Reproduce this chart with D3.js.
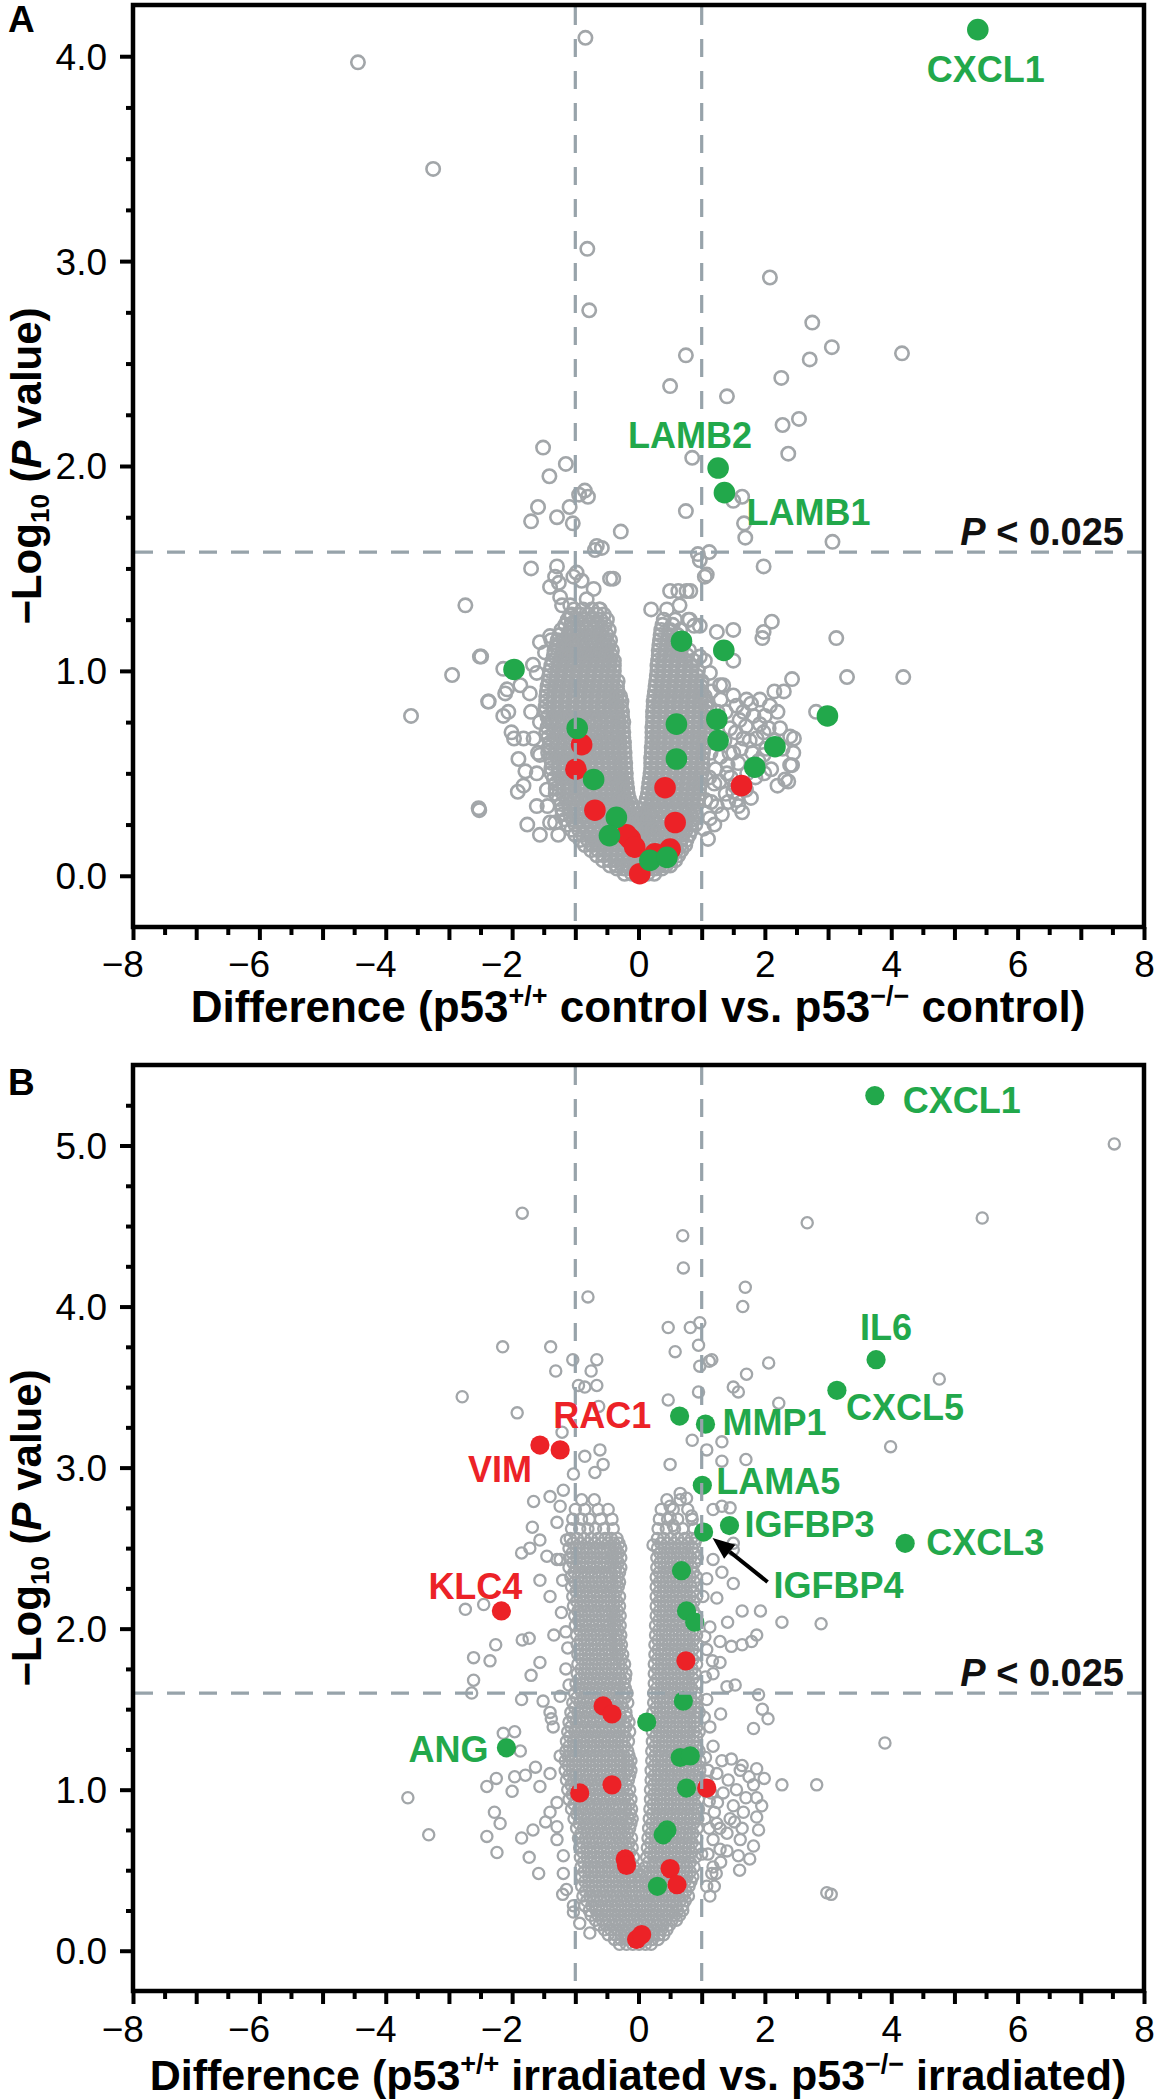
<!DOCTYPE html>
<html><head><meta charset="utf-8">
<script src="https://cdn.jsdelivr.net/npm/d3@7"></script>
<style>body{margin:0;background:#fff}</style>
</head><body>
<svg id="chart" width="1158" height="2100"></svg>
<script>
// ---------------- DATA ----------------
const xTicks = [-8,-7,-6,-5,-4,-3,-2,-1,0,1,2,3,4,5,6,7,8];
const yTicksA = [0,1,2,3,4];
const yTicksB = [0,1,2,3,4,5];
const foldLines = [-1, 1];
const threshA = 1.58, threshB = 1.6;
const xTitleA = ["Difference (p53", "+/+", " control vs. p53", "\u2212/\u2212", " control)"];
const xTitleB = ["Difference (p53", "+/+", " irradiated vs. p53", "\u2212/\u2212", " irradiated)"];

// Panel A: isolated / peripheral grey proteins [difference, -log10 P]
const greyA = [[-4.44,3.97],[-3.25,3.45],[-0.84,4.09],[-0.81,3.06],[-0.78,2.76],
[2.08,2.92],[2.75,2.70],[3.06,2.58],[2.71,2.52],[4.17,2.55],[2.26,2.43],[0.75,2.54],[0.50,2.39],[1.40,2.34],[2.54,2.23],[2.28,2.20],[2.37,2.06],[0.85,2.04],[0.75,1.78],[1.64,1.85],[1.50,1.83],[1.67,1.72],[1.69,1.65],[-0.28,1.68],[3.07,1.63],[1.12,1.58],[0.94,1.57],
[-1.51,2.09],[-1.15,2.01],[-1.41,1.95],[-1.59,1.80],[-1.70,1.73],[-1.29,1.75],[-1.09,1.80],[-1.04,1.72],[-0.94,1.86],[-0.85,1.88],[-0.80,1.85],[-0.66,1.61],[-0.58,1.60],[-0.69,1.59],[0.97,1.54],[1.08,1.47],[1.98,1.51],
[3.13,1.16],[2.43,0.96],[3.30,0.97],[4.19,0.97],[2.11,1.24],[1.96,1.16],[2.81,0.80],[2.46,0.67],[2.43,0.54],[2.37,0.46],[1.64,0.31],[-0.40,1.45],[0.82,1.39],[0.79,1.25],[1.05,1.46],
[-1.70,1.50],[-2.74,1.32],[-2.49,1.07],[-2.95,0.98],[-3.60,0.78],[-2.52,0.32],[-2.37,0.85],[-1.70,0.80],[-1.76,0.25],[-1.91,0.41],
[-1.29,1.51],[-1.32,1.46],[-0.98,1.48],[-0.90,1.44],[-0.71,1.40],[-0.45,1.45],[-1.40,1.41],[-1.24,1.36],[-1.08,1.32],[-0.82,1.35],[-0.61,1.30],[-1.08,1.27],
[0.50,1.39],[0.63,1.39],[0.76,1.39],[0.81,1.25],[0.97,1.22],[1.24,1.19],[1.50,1.20],[1.98,1.19],[1.13,0.99],[0.97,1.07],
[1.34,0.93],[1.50,0.88],[1.71,0.86],[1.92,0.86],[2.08,0.83],[1.82,0.78],[1.55,0.83],[1.66,0.67],[1.98,0.59],[2.40,0.54],[2.32,0.47],[1.50,0.60],[1.40,0.50],[1.50,0.41],[1.55,0.37],[1.24,0.34],[1.13,0.28],[1.03,0.23],[1.98,0.70],[2.24,0.72],[2.40,0.68],[2.45,0.60],
[1.50,1.05],[1.29,0.93],[1.70,0.73],[1.87,0.67],[2.11,0.63],[1.99,0.50],[1.41,0.54],[1.52,0.44],[1.38,0.40],[1.58,0.34],[1.06,0.37],
[1.15,0.90],[1.25,0.80],[1.20,0.65],[1.30,0.58],[1.45,0.72],[1.60,0.76],[2.00,0.78],[2.15,0.66],[1.58,0.55],[1.72,0.50],[1.85,0.48],[1.20,0.45],[1.15,0.36],[1.70,0.42],[2.10,0.52],
[1.12,0.82],[1.18,0.74],[1.14,0.60],[1.22,0.52],[1.12,0.48],[1.30,0.86],[1.38,0.80],[1.36,0.66],[1.44,0.60],[1.28,0.46],[1.46,0.48],[1.62,0.62],[1.54,0.70],[1.66,0.80],[1.78,0.84],[1.80,0.60],[1.92,0.74],[1.90,0.56],[2.06,0.72],[2.20,0.80],[2.28,0.62],[2.02,0.62],[1.76,0.66],[1.64,0.45],[1.78,0.38],[1.42,0.36],[1.32,0.30],[1.20,0.25],[1.10,0.18],[2.20,0.44],[2.30,0.90],[2.15,0.90],
[0.20,1.30],[0.45,1.30],[0.65,1.32],[0.88,1.22],[1.05,1.05],
[-2.51,1.07],[-2.38,0.85],[-2.14,1.01],[-2.06,0.80],[-2.01,0.70],[-1.90,0.57],[-2.53,0.33],[-1.87,0.93],[-1.61,0.99],[-1.48,1.09],[-1.56,1.14],[-1.40,1.17],[-1.72,0.89],
[-2.08,0.91],[-2.14,0.78],[-1.97,0.67],[-1.79,0.51],[-1.67,1.03],[-1.82,0.44],[-1.61,0.34],[-1.66,0.67],[-1.56,0.59],[-1.45,0.42],[-1.40,0.26],[-1.56,0.20],[-1.27,0.20],[-1.61,0.50],[-1.82,0.67],[-2.11,0.89],
[-1.26,1.43],[-1.03,1.46],[-1.21,1.32],[-1.06,1.23],[-1.38,1.15],[-1.56,0.75],[-1.59,0.60],[-1.44,0.34],[-1.32,0.26]];

// Panel A: dense core, listed row by row  [-log10 P, [differences]]
const denseA = [
[1.30,[-1.02,-0.88,-0.74,-0.62]],
[1.25,[-1.12,-0.98,-0.85,-0.72,-0.6,-0.5,0.4,0.58]],
[1.20,[-1.22,-1.08,-0.95,-0.82,-0.7,-0.58,-0.47,0.36,0.5,0.66]],
[1.15,[-1.28,-1.15,-1.02,-0.89,-0.76,-0.64,-0.53,-0.45,0.34,0.46,0.58,0.72]],
[1.10,[-1.33,-1.2,-1.08,-0.96,-0.84,-0.72,-0.61,-0.5,-0.42,0.32,0.43,0.55,0.67,0.8]],
[1.05,[-1.36,-1.24,-1.12,-1.0,-0.88,-0.76,-0.65,-0.54,-0.45,-0.39,0.31,0.41,0.52,0.63,0.75,0.87]],
[1.00,[-1.4,-1.28,-1.16,-1.04,-0.92,-0.8,-0.69,-0.58,-0.48,-0.39,0.3,0.4,0.51,0.62,0.73,0.84,0.94]],
[0.95,[-1.42,-1.3,-1.18,-1.06,-0.94,-0.82,-0.71,-0.6,-0.5,-0.41,-0.33,0.28,0.38,0.49,0.6,0.71,0.82,0.92,1.0]],
[0.90,[-1.45,-1.33,-1.21,-1.09,-0.97,-0.85,-0.74,-0.63,-0.52,-0.42,-0.33,0.26,0.36,0.47,0.58,0.69,0.8,0.9,1.0]],
[0.85,[-1.46,-1.34,-1.22,-1.1,-0.98,-0.86,-0.75,-0.64,-0.53,-0.43,-0.34,-0.27,0.24,0.34,0.45,0.56,0.67,0.78,0.89,0.99,1.08]],
[0.80,[-1.47,-1.35,-1.23,-1.11,-0.99,-0.87,-0.76,-0.65,-0.54,-0.44,-0.35,-0.26,0.23,0.33,0.44,0.55,0.66,0.77,0.88,0.98,1.07]],
[0.75,[-1.41,-1.29,-1.17,-1.05,-0.93,-0.81,-0.7,-0.59,-0.49,-0.4,-0.31,-0.24,0.23,0.32,0.43,0.54,0.65,0.76,0.87,0.97,1.06]],
[0.70,[-1.46,-1.34,-1.22,-1.1,-0.98,-0.86,-0.75,-0.64,-0.53,-0.43,-0.33,-0.24,0.22,0.31,0.42,0.53,0.64,0.75,0.86,0.96,1.05]],
[0.65,[-1.4,-1.28,-1.16,-1.04,-0.92,-0.8,-0.69,-0.58,-0.48,-0.39,-0.3,-0.23,0.22,0.31,0.41,0.52,0.63,0.74,0.85,0.95,1.04]],
[0.60,[-1.43,-1.31,-1.19,-1.07,-0.95,-0.83,-0.72,-0.61,-0.51,-0.41,-0.31,-0.22,0.21,0.3,0.4,0.51,0.62,0.73,0.84,0.94,1.02]],
[0.55,[-1.37,-1.25,-1.13,-1.01,-0.89,-0.77,-0.66,-0.56,-0.46,-0.37,-0.29,-0.21,0.2,0.29,0.39,0.5,0.61,0.72,0.83,0.93,1.01]],
[0.50,[-1.38,-1.26,-1.14,-1.02,-0.9,-0.78,-0.67,-0.56,-0.46,-0.37,-0.28,-0.2,0.19,0.28,0.38,0.49,0.6,0.71,0.82,0.92,1.0]],
[0.45,[-1.31,-1.19,-1.07,-0.95,-0.83,-0.72,-0.61,-0.51,-0.42,-0.33,-0.25,-0.19,0.17,0.26,0.36,0.47,0.58,0.69,0.8,0.9,0.98]],
[0.40,[-1.31,-1.19,-1.07,-0.95,-0.83,-0.72,-0.61,-0.51,-0.41,-0.32,-0.24,-0.17,0.15,0.24,0.34,0.45,0.56,0.67,0.78,0.88,0.96]],
[0.35,[-1.22,-1.1,-0.98,-0.86,-0.75,-0.64,-0.54,-0.44,-0.35,-0.26,-0.18,-0.11,0.11,0.2,0.3,0.41,0.52,0.63,0.74,0.84,0.93]],
[0.30,[-1.2,-1.08,-0.96,-0.84,-0.72,-0.61,-0.5,-0.4,-0.31,-0.22,-0.14,-0.06,0.02,0.1,0.19,0.29,0.4,0.51,0.62,0.73,0.83,0.91]],
[0.25,[-1.12,-1.0,-0.88,-0.76,-0.64,-0.53,-0.43,-0.33,-0.24,-0.15,-0.07,0.01,0.09,0.18,0.28,0.39,0.5,0.61,0.72,0.82,0.9]],
[0.20,[-1.0,-0.88,-0.76,-0.65,-0.54,-0.44,-0.34,-0.25,-0.16,-0.08,0.0,0.08,0.17,0.27,0.37,0.48,0.59,0.7,0.8]],
[0.15,[-0.85,-0.73,-0.62,-0.51,-0.41,-0.31,-0.22,-0.13,-0.05,0.04,0.13,0.23,0.33,0.44,0.55,0.66,0.74]],
[0.10,[-0.66,-0.55,-0.44,-0.34,-0.24,-0.15,-0.06,0.03,0.12,0.22,0.32,0.43,0.54,0.63]],
[0.05,[-0.45,-0.34,-0.24,-0.14,-0.05,0.04,0.13,0.23,0.33,0.43,0.5]],
[0.01,[-0.22,-0.1,0.02,0.14,0.25]]];
const denseA2 = [
[1.275,[-1.06,-0.92,-0.79,-0.66,-0.55]],
[1.225,[-1.16,-1.02,-0.89,-0.76,-0.64,-0.53,0.38,0.54]],
[1.175,[-1.25,-1.11,-0.98,-0.85,-0.73,-0.61,-0.5,0.35,0.48,0.62]],
[1.125,[-1.3,-1.17,-1.05,-0.93,-0.81,-0.69,-0.57,-0.47,0.33,0.45,0.57,0.7]],
[1.075,[-1.34,-1.22,-1.1,-0.98,-0.86,-0.74,-0.63,-0.52,-0.43,0.32,0.42,0.53,0.65,0.77]],
[1.025,[-1.38,-1.26,-1.14,-1.02,-0.9,-0.78,-0.67,-0.56,-0.46,-0.39,0.3,0.4,0.51,0.62,0.73,0.85]],
[0.975,[-1.41,-1.29,-1.17,-1.05,-0.93,-0.81,-0.7,-0.59,-0.49,-0.4,0.29,0.39,0.5,0.61,0.72,0.83,0.93]],
[0.925,[-1.44,-1.32,-1.2,-1.08,-0.96,-0.84,-0.73,-0.62,-0.52,-0.43,-0.34,0.27,0.37,0.48,0.59,0.7,0.81,0.91,0.99]],
[0.875,[-1.46,-1.34,-1.22,-1.1,-0.98,-0.86,-0.75,-0.64,-0.54,-0.44,-0.35,-0.29,0.25,0.35,0.46,0.57,0.68,0.79,0.89,0.98,1.05]],
[0.825,[-1.47,-1.35,-1.23,-1.11,-0.99,-0.87,-0.76,-0.65,-0.55,-0.45,-0.36,-0.28,0.24,0.34,0.45,0.56,0.67,0.78,0.89,0.98,1.07]],
[0.775,[-1.44,-1.32,-1.2,-1.08,-0.96,-0.84,-0.73,-0.62,-0.52,-0.42,-0.33,-0.26,0.23,0.33,0.44,0.55,0.66,0.77,0.88,0.97,1.06]],
[0.725,[-1.44,-1.32,-1.2,-1.08,-0.96,-0.84,-0.73,-0.62,-0.52,-0.42,-0.32,-0.25,0.22,0.32,0.43,0.54,0.65,0.76,0.87,0.96,1.05]],
[0.675,[-1.43,-1.31,-1.19,-1.07,-0.95,-0.83,-0.72,-0.61,-0.51,-0.41,-0.32,-0.24,0.22,0.31,0.42,0.53,0.64,0.75,0.86,0.95,1.04]],
[0.625,[-1.42,-1.3,-1.18,-1.06,-0.94,-0.82,-0.71,-0.6,-0.5,-0.4,-0.31,-0.23,0.21,0.3,0.41,0.52,0.63,0.74,0.85,0.94,1.03]],
[0.575,[-1.4,-1.28,-1.16,-1.04,-0.92,-0.8,-0.69,-0.58,-0.48,-0.39,-0.3,-0.22,0.2,0.3,0.4,0.51,0.62,0.73,0.84,0.93,1.01]],
[0.525,[-1.38,-1.26,-1.14,-1.02,-0.9,-0.78,-0.67,-0.57,-0.47,-0.38,-0.29,-0.21,0.2,0.29,0.39,0.5,0.61,0.72,0.83,0.92,1.0]],
[0.475,[-1.34,-1.22,-1.1,-0.98,-0.86,-0.75,-0.64,-0.54,-0.44,-0.35,-0.27,-0.2,0.18,0.27,0.37,0.48,0.59,0.7,0.81,0.9,0.98]],
[0.425,[-1.31,-1.19,-1.07,-0.95,-0.83,-0.72,-0.61,-0.51,-0.42,-0.33,-0.25,-0.18,0.16,0.25,0.35,0.46,0.57,0.68,0.79,0.88,0.96]],
[0.375,[-1.26,-1.14,-1.02,-0.9,-0.79,-0.68,-0.58,-0.48,-0.39,-0.3,-0.22,-0.15,0.13,0.22,0.32,0.43,0.54,0.65,0.76,0.86,0.94]],
[0.325,[-1.21,-1.09,-0.97,-0.85,-0.74,-0.63,-0.53,-0.43,-0.34,-0.25,-0.17,-0.09,0.0,0.07,0.15,0.25,0.36,0.47,0.58,0.69,0.79,0.88]],
[0.275,[-1.16,-1.04,-0.92,-0.8,-0.68,-0.57,-0.47,-0.37,-0.28,-0.19,-0.11,-0.03,0.05,0.14,0.24,0.34,0.45,0.56,0.67,0.77,0.86]],
[0.225,[-1.06,-0.94,-0.82,-0.71,-0.6,-0.49,-0.39,-0.29,-0.2,-0.12,-0.04,0.04,0.13,0.22,0.32,0.43,0.54,0.65,0.75,0.84]],
[0.175,[-0.92,-0.8,-0.69,-0.58,-0.47,-0.37,-0.28,-0.19,-0.1,-0.02,0.06,0.15,0.25,0.35,0.46,0.57,0.67,0.76]],
[0.125,[-0.75,-0.64,-0.53,-0.43,-0.33,-0.24,-0.15,-0.06,0.03,0.12,0.21,0.3,0.4,0.5,0.6,0.68]],
[0.075,[-0.56,-0.45,-0.35,-0.25,-0.16,-0.07,0.02,0.11,0.2,0.3,0.4,0.5,0.58]],
[0.035,[-0.34,-0.23,-0.13,-0.03,0.07,0.17,0.27,0.37]]];

// Panel A highlighted proteins
const greenA = [[5.37,4.13,"CXCL1"],[1.26,1.99,"LAMB2"],[1.36,1.87,"LAMB1"],[0.68,1.145],[1.35,1.10],[-1.97,1.007],[0.60,0.74],[1.24,0.764],[1.26,0.66],[2.16,0.63],[1.84,0.53],[0.60,0.57],[2.99,0.78],[-0.97,0.72],[-0.71,0.47],[-0.35,0.285],[-0.46,0.196],[0.18,0.075],[0.45,0.09]];
const redA = [[-0.90,0.64],[-0.99,0.52],[-0.69,0.32],[-0.13,0.18],[-0.19,0.20],[-0.06,0.14],[0.02,0.01],[0.50,0.13],[0.26,0.107],[0.42,0.43],[0.58,0.26],[1.63,0.44]];

// Panel B: isolated / peripheral grey proteins
const greyB = [[7.53,5.01],[5.44,4.55],[2.67,4.52],[0.70,4.44],[0.71,4.24],[1.69,4.12],[1.65,4.00],[4.76,3.55],[3.99,3.13],[2.06,3.65],[1.71,3.58],[2.22,3.40],[0.47,3.87],[0.58,3.72],[0.82,3.87],[0.97,3.90],[0.95,3.76],[1.12,3.66],[0.97,3.63],[1.16,3.67],[1.50,3.50],[1.58,3.47],[0.47,3.42],[0.95,3.47],[-0.80,4.06],[-0.66,3.67],[-0.75,3.60],[-0.66,3.51],[0.85,3.17],[1.08,3.11],[1.32,3.16],[1.32,3.04],[1.70,3.05],[0.50,3.02],
[-1.84,4.58],[-2.15,3.75],[-1.39,3.75],[-1.31,3.60],[-1.04,3.67],[-0.85,3.50],[-0.95,3.51],[-2.79,3.44],[-1.92,3.34],[-1.21,3.22],[-0.63,3.38],
[-0.85,3.07],[-0.61,3.11],[-0.56,3.02],[-0.69,2.97],[-1.03,2.96],[-1.19,2.86],[-1.40,2.82],[-1.66,2.79],[-1.68,2.63],[-1.85,2.47],[-1.72,2.50],[-1.29,2.66],[-1.56,2.55],[-1.45,2.45],[-1.24,2.76],[-1.14,2.55],[-1.24,2.43],[-1.56,2.30],[-1.40,2.20],[-1.29,2.43],
[0.84,2.70],[1.18,2.74],[1.32,2.76],[1.45,2.75],[0.50,2.76],[0.23,2.52],[1.50,2.53],[0.50,2.69],[0.55,2.64],[0.66,2.84],[0.76,2.81],
[1.32,2.35],[1.50,2.28],[1.24,2.19],[1.08,2.31],[1.18,2.43],[1.50,2.49],[1.13,2.01],[1.08,1.87],[1.18,1.72],[1.08,1.56],[1.13,1.39],[1.18,1.27],
[1.64,2.11],[1.93,2.11],[1.41,2.04],[2.27,2.04],[2.89,2.03],[1.29,1.92],[1.47,1.89],[1.64,1.90],[1.79,1.92],[1.87,1.96],[1.29,1.79],[1.17,1.80],[1.40,1.64],[1.53,1.65],[1.90,1.59],[1.30,1.47],[1.96,1.50],[2.05,1.44],[1.82,1.38],[3.90,1.29],
[1.47,1.19],[1.64,1.15],[1.87,1.13],[1.99,1.07],[1.82,1.03],[1.87,0.95],[2.27,1.03],[2.82,1.03],[1.12,0.93],[1.29,0.76],[1.52,0.80],[1.64,0.76],[1.76,0.57],[1.58,0.59],[1.29,0.63],[1.20,0.40],[1.23,0.48],[3.05,0.35],
[1.61,1.12],[1.24,1.10],[1.34,0.98],[1.50,0.90],[1.66,0.86],[1.87,0.83],[1.24,0.79],[1.40,0.73],[1.61,0.69],[1.82,0.65],[1.18,0.69],[1.18,0.52],[1.08,0.40],[1.13,0.34],[2.98,0.36],
[1.10,1.12],[1.15,0.98],[1.20,0.86],[1.12,0.76],[1.10,0.60],[1.16,0.48],[1.30,0.55],[1.40,0.62],[1.45,0.82],[1.55,1.00],[1.70,0.95],[1.75,1.08],[1.42,1.06],[1.32,1.18],[1.25,0.92],[1.60,0.50],[1.90,0.75],[1.95,0.90],
[-2.74,2.12],[-2.45,2.15],[-2.26,1.90],[-2.61,1.82],[-2.35,1.80],[-1.84,1.93],[-1.73,1.94],[-1.34,1.96],[-1.56,1.79],[-1.70,1.71],[-2.61,1.68],[-2.64,1.60],[-1.85,1.56],[-1.51,1.55],[-1.15,1.75],[-2.14,1.35],[-1.96,1.36],[-1.87,1.24],[-1.63,1.14],[-1.79,1.09],[-1.96,1.08],[-2.25,1.07],[-2.40,1.02],[-3.65,0.95],[-3.32,0.72],[-2.28,0.86],[-2.19,0.79],[-2.40,0.71],[-2.24,0.61],[-1.85,0.70],[-1.67,0.75],[-1.73,0.58],[-1.58,0.48],[-1.20,0.35],[-1.03,0.24],
[-1.29,0.92],[-1.40,0.86],[-1.29,0.77],[-1.40,1.10],[-1.56,1.02],[-1.24,1.21],[-1.35,1.39],[-1.40,1.48],[-1.24,1.58],[-1.29,0.69],[-1.19,0.59],[-1.19,0.48],[-1.14,0.38],[-1.03,0.28],[-0.93,0.17],[-0.77,0.11],[-1.38,1.44],[-1.47,0.80],[-2.00,0.99],
[-1.20,2.30],[-1.22,2.10],[-1.15,1.98],[-1.12,1.88],[-1.10,1.65],
[1.05,2.60],[1.02,2.20],[1.05,1.95],[1.06,1.70],[1.04,1.45],[1.06,1.20],[1.08,1.05],[1.05,0.82],[1.00,0.60]];

// Panel B: dense core, row by row
const denseB = [
[2.80,[-0.9,-0.7,0.45,0.66]],
[2.74,[-1.0,-0.85,-0.64,-0.48,0.36,0.55,0.78]],
[2.68,[-1.04,-0.9,-0.78,-0.6,-0.42,0.33,0.46,0.62,0.85]],
[2.62,[-1.06,-0.93,-0.8,-0.68,-0.55,-0.4,0.31,0.44,0.57,0.7,0.88]],
[2.56,[-1.08,-0.97,-0.86,-0.75,-0.64,-0.53,-0.43,-0.34,0.3,0.4,0.51,0.62,0.73,0.84,0.92]],
[2.50,[-1.1,-0.99,-0.88,-0.77,-0.66,-0.55,-0.45,-0.36,-0.28,0.3,0.41,0.52,0.63,0.74,0.85]],
[2.44,[-1.09,-0.98,-0.87,-0.76,-0.65,-0.54,-0.44,-0.35,-0.28,0.29,0.39,0.5,0.61,0.72,0.83,0.93]],
[2.38,[-1.1,-0.99,-0.88,-0.77,-0.66,-0.55,-0.45,-0.36,-0.28,0.29,0.4,0.51,0.62,0.73,0.84]],
[2.32,[-1.07,-0.96,-0.85,-0.74,-0.63,-0.52,-0.42,-0.33,0.28,0.38,0.49,0.6,0.71,0.82,0.92]],
[2.26,[-1.06,-0.95,-0.84,-0.73,-0.62,-0.51,-0.41,-0.32,0.28,0.39,0.5,0.61,0.72,0.83]],
[2.20,[-1.04,-0.93,-0.82,-0.71,-0.6,-0.49,-0.39,-0.3,0.28,0.38,0.49,0.6,0.71,0.82,0.92]],
[2.14,[-1.03,-0.92,-0.81,-0.7,-0.59,-0.49,-0.39,-0.3,0.28,0.39,0.5,0.61,0.72,0.83]],
[2.08,[-1.01,-0.9,-0.79,-0.68,-0.57,-0.47,-0.38,-0.29,0.28,0.38,0.49,0.6,0.71,0.82,0.92]],
[2.02,[-1.0,-0.89,-0.78,-0.67,-0.56,-0.46,-0.37,-0.29,0.27,0.38,0.49,0.6,0.71,0.82]],
[1.96,[-0.98,-0.87,-0.76,-0.65,-0.54,-0.44,-0.35,-0.28,0.27,0.37,0.48,0.59,0.7,0.81,0.92]],
[1.90,[-0.97,-0.86,-0.75,-0.64,-0.53,-0.43,-0.34,-0.27,0.26,0.37,0.48,0.59,0.7,0.81,0.93]],
[1.84,[-0.96,-0.85,-0.74,-0.63,-0.52,-0.42,-0.33,-0.25,0.26,0.36,0.47,0.58,0.69,0.8,0.91]],
[1.78,[-0.96,-0.85,-0.74,-0.63,-0.52,-0.41,-0.31,-0.22,0.25,0.36,0.47,0.58,0.69,0.8,0.92]],
[1.72,[-0.97,-0.86,-0.75,-0.64,-0.53,-0.42,-0.31,-0.2,0.25,0.35,0.46,0.57,0.68,0.79,0.9]],
[1.66,[-0.99,-0.88,-0.77,-0.66,-0.55,-0.44,-0.33,-0.23,0.25,0.36,0.47,0.58,0.69,0.8,0.92]],
[1.60,[-1.01,-0.9,-0.79,-0.68,-0.57,-0.46,-0.35,-0.25,-0.18,0.24,0.35,0.46,0.57,0.68,0.79,0.9]],
[1.54,[-1.04,-0.93,-0.82,-0.71,-0.6,-0.49,-0.38,-0.27,-0.17,0.24,0.34,0.45,0.56,0.67,0.78,0.89]],
[1.48,[-1.07,-0.96,-0.85,-0.74,-0.63,-0.52,-0.41,-0.3,-0.2,0.23,0.34,0.45,0.56,0.67,0.78,0.89,0.96]],
[1.42,[-1.1,-0.99,-0.88,-0.77,-0.66,-0.55,-0.44,-0.33,-0.23,-0.15,0.23,0.33,0.44,0.55,0.66,0.77,0.88]],
[1.36,[-1.12,-1.01,-0.9,-0.79,-0.68,-0.57,-0.46,-0.35,-0.24,-0.14,0.22,0.33,0.44,0.55,0.66,0.77,0.88,0.96]],
[1.30,[-1.14,-1.03,-0.92,-0.81,-0.7,-0.59,-0.48,-0.37,-0.26,-0.16,0.22,0.32,0.43,0.54,0.65,0.76,0.87]],
[1.24,[-1.15,-1.04,-0.93,-0.82,-0.71,-0.6,-0.49,-0.38,-0.27,-0.17,0.21,0.32,0.43,0.54,0.65,0.76,0.87,0.96]],
[1.18,[-1.16,-1.05,-0.94,-0.83,-0.72,-0.61,-0.5,-0.39,-0.28,-0.18,-0.12,0.21,0.31,0.42,0.53,0.64,0.75,0.86,0.97]],
[1.12,[-1.16,-1.05,-0.94,-0.83,-0.72,-0.61,-0.5,-0.39,-0.28,-0.18,-0.12,0.2,0.31,0.42,0.53,0.64,0.75,0.86,0.97]],
[1.06,[-1.14,-1.03,-0.92,-0.81,-0.7,-0.59,-0.48,-0.37,-0.26,-0.16,0.2,0.3,0.41,0.52,0.63,0.74,0.85,0.96]],
[1.00,[-1.12,-1.01,-0.9,-0.79,-0.68,-0.57,-0.46,-0.35,-0.24,-0.14,0.19,0.3,0.41,0.52,0.63,0.74,0.85,0.96]],
[0.94,[-1.1,-0.99,-0.88,-0.77,-0.66,-0.55,-0.44,-0.33,-0.22,-0.12,0.19,0.29,0.4,0.51,0.62,0.73,0.84,0.95]],
[0.88,[-1.06,-0.95,-0.84,-0.73,-0.62,-0.51,-0.4,-0.3,-0.2,-0.11,0.18,0.29,0.4,0.51,0.62,0.73,0.84,0.95]],
[0.82,[-1.02,-0.91,-0.8,-0.69,-0.58,-0.47,-0.36,-0.26,-0.16,-0.1,0.17,0.28,0.39,0.5,0.61,0.72,0.83,0.94]],
[0.76,[-0.98,-0.87,-0.76,-0.65,-0.54,-0.43,-0.33,-0.23,-0.14,0.16,0.27,0.38,0.49,0.6,0.71,0.82,0.93]],
[0.70,[-0.95,-0.84,-0.73,-0.62,-0.51,-0.41,-0.31,-0.21,-0.11,0.15,0.26,0.37,0.48,0.59,0.7,0.81,0.92]],
[0.64,[-0.93,-0.82,-0.71,-0.6,-0.49,-0.39,-0.29,-0.19,-0.1,0.14,0.25,0.36,0.47,0.58,0.69,0.8,0.91]],
[0.58,[-0.92,-0.81,-0.7,-0.59,-0.48,-0.38,-0.28,-0.18,-0.08,0.13,0.24,0.35,0.46,0.57,0.68,0.79,0.9]],
[0.52,[-0.91,-0.8,-0.69,-0.58,-0.47,-0.37,-0.27,-0.17,-0.07,0.11,0.22,0.33,0.44,0.55,0.66,0.77,0.88]],
[0.46,[-0.9,-0.79,-0.68,-0.57,-0.46,-0.36,-0.26,-0.16,-0.06,0.03,0.12,0.22,0.33,0.44,0.55,0.66,0.77,0.86]],
[0.40,[-0.9,-0.79,-0.68,-0.57,-0.46,-0.35,-0.25,-0.15,-0.05,0.05,0.15,0.25,0.36,0.47,0.58,0.69,0.8]],
[0.34,[-0.88,-0.77,-0.66,-0.55,-0.44,-0.34,-0.24,-0.14,-0.04,0.06,0.16,0.26,0.37,0.48,0.59,0.7,0.79]],
[0.28,[-0.85,-0.74,-0.63,-0.52,-0.42,-0.32,-0.22,-0.12,-0.02,0.08,0.18,0.28,0.38,0.49,0.6,0.7]],
[0.22,[-0.75,-0.64,-0.53,-0.43,-0.33,-0.23,-0.13,-0.03,0.07,0.17,0.27,0.37,0.47,0.57,0.65]],
[0.16,[-0.62,-0.51,-0.41,-0.31,-0.21,-0.11,-0.01,0.09,0.19,0.29,0.39,0.49]],
[0.10,[-0.48,-0.37,-0.27,-0.17,-0.07,0.03,0.13,0.23,0.33,0.4]],
[0.04,[-0.3,-0.19,-0.09,0.01,0.11,0.2]]];
const denseB2 = [
[2.53,[-1.04,-0.92,-0.8,-0.69,-0.58,-0.48,-0.39,-0.31,0.35,0.46,0.57,0.68,0.79,0.89]],
[2.47,[-1.05,-0.93,-0.82,-0.71,-0.6,-0.5,-0.4,-0.32,0.34,0.45,0.56,0.67,0.78,0.88]],
[2.41,[-1.04,-0.93,-0.82,-0.71,-0.6,-0.5,-0.4,-0.32,0.34,0.45,0.56,0.67,0.78,0.89]],
[2.35,[-1.02,-0.91,-0.8,-0.69,-0.58,-0.47,-0.37,-0.3,0.33,0.44,0.55,0.66,0.77,0.87]],
[2.29,[-1.01,-0.9,-0.79,-0.68,-0.57,-0.46,-0.36,-0.3,0.33,0.44,0.55,0.66,0.77,0.88]],
[2.23,[-0.99,-0.88,-0.77,-0.66,-0.55,-0.44,-0.35,0.33,0.43,0.54,0.65,0.76,0.87]],
[2.17,[-0.98,-0.87,-0.76,-0.65,-0.54,-0.44,-0.34,0.33,0.44,0.55,0.66,0.77,0.88]],
[2.11,[-0.96,-0.85,-0.74,-0.63,-0.52,-0.42,-0.33,0.33,0.43,0.54,0.65,0.76,0.87]],
[2.05,[-0.95,-0.84,-0.73,-0.62,-0.51,-0.41,-0.33,0.32,0.43,0.54,0.65,0.76,0.87]],
[1.99,[-0.93,-0.82,-0.71,-0.6,-0.49,-0.4,-0.32,0.32,0.42,0.53,0.64,0.75,0.86]],
[1.93,[-0.92,-0.81,-0.7,-0.59,-0.48,-0.38,-0.3,0.31,0.42,0.53,0.64,0.75,0.87]],
[1.87,[-0.91,-0.8,-0.69,-0.58,-0.47,-0.37,-0.29,0.31,0.41,0.52,0.63,0.74,0.86]],
[1.81,[-0.9,-0.79,-0.68,-0.57,-0.46,-0.36,-0.27,0.3,0.41,0.52,0.63,0.74,0.86]],
[1.75,[-0.91,-0.8,-0.69,-0.58,-0.47,-0.36,-0.26,0.3,0.4,0.51,0.62,0.73,0.85]],
[1.69,[-0.93,-0.82,-0.71,-0.6,-0.49,-0.38,-0.28,-0.21,0.3,0.41,0.52,0.63,0.74,0.86]],
[1.63,[-0.95,-0.84,-0.73,-0.62,-0.51,-0.4,-0.3,-0.21,0.29,0.4,0.51,0.62,0.73,0.84]],
[1.57,[-0.98,-0.87,-0.76,-0.65,-0.54,-0.43,-0.32,-0.22,0.29,0.39,0.5,0.61,0.72,0.83,0.93]],
[1.51,[-1.01,-0.9,-0.79,-0.68,-0.57,-0.46,-0.35,-0.25,0.28,0.39,0.5,0.61,0.72,0.83,0.93]],
[1.45,[-1.04,-0.93,-0.82,-0.71,-0.6,-0.49,-0.38,-0.28,-0.19,0.28,0.38,0.49,0.6,0.71,0.82,0.92]],
[1.39,[-1.07,-0.96,-0.85,-0.74,-0.63,-0.52,-0.41,-0.3,-0.2,0.27,0.38,0.49,0.6,0.71,0.82,0.92]],
[1.33,[-1.09,-0.98,-0.87,-0.76,-0.65,-0.54,-0.43,-0.32,-0.21,0.27,0.37,0.48,0.59,0.7,0.81,0.92]],
[1.27,[-1.1,-0.99,-0.88,-0.77,-0.66,-0.55,-0.44,-0.33,-0.22,0.26,0.37,0.48,0.59,0.7,0.81,0.92]],
[1.21,[-1.11,-1.0,-0.89,-0.78,-0.67,-0.56,-0.45,-0.34,-0.23,-0.15,0.26,0.36,0.47,0.58,0.69,0.8,0.91]],
[1.15,[-1.11,-1.0,-0.89,-0.78,-0.67,-0.56,-0.45,-0.34,-0.23,-0.15,0.25,0.36,0.47,0.58,0.69,0.8,0.91]],
[1.09,[-1.1,-0.99,-0.88,-0.77,-0.66,-0.55,-0.44,-0.33,-0.22,-0.14,0.25,0.35,0.46,0.57,0.68,0.79,0.9]],
[1.03,[-1.07,-0.96,-0.85,-0.74,-0.63,-0.52,-0.41,-0.3,-0.19,0.24,0.35,0.46,0.57,0.68,0.79,0.9]],
[0.97,[-1.05,-0.94,-0.83,-0.72,-0.61,-0.5,-0.39,-0.28,-0.17,0.24,0.34,0.45,0.56,0.67,0.78,0.89]],
[0.91,[-1.02,-0.91,-0.8,-0.69,-0.58,-0.47,-0.36,-0.25,-0.15,0.23,0.34,0.45,0.56,0.67,0.78,0.89]],
[0.85,[-0.98,-0.87,-0.76,-0.65,-0.54,-0.43,-0.32,-0.22,-0.13,0.22,0.33,0.44,0.55,0.66,0.77,0.88]],
[0.79,[-0.94,-0.83,-0.72,-0.61,-0.5,-0.39,-0.29,-0.19,-0.12,0.21,0.32,0.43,0.54,0.65,0.76,0.87]],
[0.73,[-0.91,-0.8,-0.69,-0.58,-0.47,-0.37,-0.27,-0.17,0.2,0.31,0.42,0.53,0.64,0.75,0.86]],
[0.67,[-0.89,-0.78,-0.67,-0.56,-0.45,-0.35,-0.25,-0.15,0.19,0.3,0.41,0.52,0.63,0.74,0.85]],
[0.61,[-0.88,-0.77,-0.66,-0.55,-0.44,-0.34,-0.24,-0.14,0.18,0.29,0.4,0.51,0.62,0.73,0.84]],
[0.55,[-0.87,-0.76,-0.65,-0.54,-0.43,-0.33,-0.23,-0.13,0.16,0.27,0.38,0.49,0.6,0.71,0.82]],
[0.49,[-0.86,-0.75,-0.64,-0.53,-0.42,-0.32,-0.22,-0.12,-0.02,0.07,0.17,0.28,0.39,0.5,0.61,0.72,0.82]],
[0.43,[-0.85,-0.74,-0.63,-0.52,-0.41,-0.31,-0.21,-0.11,0.0,0.1,0.2,0.3,0.41,0.52,0.63,0.74,0.83]],
[0.37,[-0.84,-0.73,-0.62,-0.51,-0.4,-0.3,-0.2,-0.1,0.01,0.11,0.21,0.31,0.42,0.53,0.64,0.75]],
[0.31,[-0.82,-0.71,-0.6,-0.49,-0.38,-0.28,-0.18,-0.08,0.03,0.13,0.23,0.33,0.44,0.55,0.66,0.74]],
[0.25,[-0.78,-0.67,-0.57,-0.47,-0.37,-0.27,-0.17,-0.07,0.03,0.13,0.23,0.33,0.43,0.53,0.62,0.7]],
[0.19,[-0.68,-0.57,-0.47,-0.37,-0.27,-0.17,-0.07,0.03,0.13,0.23,0.33,0.43,0.53,0.6]],
[0.13,[-0.54,-0.44,-0.34,-0.24,-0.14,-0.04,0.06,0.16,0.26,0.36,0.45]],
[0.07,[-0.38,-0.28,-0.18,-0.08,0.02,0.12,0.22,0.31]]];

// Panel B highlighted proteins
const greenB = [[3.74,5.31,"CXCL1"],[3.76,3.67,"IL6"],[3.14,3.48,"CXCL5"],[0.65,3.32],[1.06,3.27,"MMP1"],[1.01,2.89,"LAMA5"],[1.44,2.64,"IGFBP3"],[1.03,2.60,"IGFBP4"],[4.22,2.53,"CXCL3"],[0.68,2.36],[0.76,2.11],[0.89,2.04],[0.71,1.55],[0.13,1.42],[-2.09,1.26,"ANG"],[0.66,1.20],[0.82,1.21],[0.76,1.01],[0.45,0.75],[0.39,0.72],[0.30,0.40]];
const redB = [[-1.56,3.14,"VIM"],[-1.24,3.11,"RAC1"],[-2.17,2.11,"KLC4"],[0.75,1.80],[-0.56,1.52],[-0.42,1.47],[1.08,1.01],[-0.93,0.98],[-0.42,1.03],[-0.21,0.57],[-0.19,0.53],[0.50,0.51],[0.61,0.41],[-0.03,0.07],[0.05,0.10]];

// ---------------- LAYOUT / STYLE ----------------
const GREY = "#a2a6a9", GREEN = "#22a84b", RED = "#ec2227", DASH = "#97a3aa";
const FONT = "'Liberation Sans', Arial, Helvetica, sans-serif";
const labelLayout = {
  A: {CXCL1:{dx:8,dy:52,a:"middle"}, LAMB2:{dx:-28,dy:-20,a:"middle"}, LAMB1:{dx:22,dy:32,a:"start"}},
  B: {CXCL1:{dx:28,dy:17,a:"start"}, IL6:{dx:10,dy:-20,a:"middle"}, CXCL5:{dx:9,dy:30,a:"start"},
      MMP1:{dx:17,dy:11,a:"start"}, LAMA5:{dx:14,dy:9,a:"start"}, IGFBP3:{dx:15,dy:11,a:"start"},
      IGFBP4:{dx:70,dy:66,a:"start"}, CXCL3:{dx:21,dy:12,a:"start"}, RAC1:{dx:-7,dy:-22,a:"start"},
      VIM:{dx:-8,dy:37,a:"end"}, KLC4:{dx:-26,dy:-12,a:"middle"}, ANG:{dx:-18,dy:14,a:"end"}}
};

const svg = d3.select("#chart");
const X0 = 133, X1 = 1144;

function drawPanel(cfg){
  const g = svg.append("g");
  const x = d3.scaleLinear().domain([-8,8]).range([X0,X1]);
  const y = d3.scaleLinear().domain(cfg.yDomain).range([cfg.bottom, cfg.top]);

  const rows = cfg.dense.flatMap(([yy,xs]) => xs.map(xx => [xx,yy]));
  const pts = cfg.grey.concat(rows);
  g.append("g").selectAll("circle").data(pts).join("circle")
    .attr("cx", d => x(d[0])).attr("cy", d => y(d[1])).attr("r", cfg.rg)
    .attr("fill","none").attr("stroke",GREY).attr("stroke-width",cfg.sw);

  const colored = [].concat(
    cfg.red.map(d => ({d, c:RED})),
    cfg.green.map(d => ({d, c:GREEN})));
  g.append("g").selectAll("circle").data(colored).join("circle")
    .attr("cx", o => x(o.d[0])).attr("cy", o => y(o.d[1])).attr("r", cfg.rc)
    .attr("fill", o => o.c);

  // dashed reference lines
  const dl = g.append("g").attr("stroke",DASH).attr("stroke-width",3.2).attr("stroke-dasharray","18,14").attr("fill","none");
  foldLines.forEach(v => dl.append("line").attr("x1",x(v)).attr("x2",x(v)).attr("y1",cfg.top+2).attr("y2",cfg.bottom));
  dl.append("line").attr("x1",X0+2).attr("x2",X1).attr("y1",y(cfg.thresh)).attr("y2",y(cfg.thresh));

  // frame
  g.append("rect").attr("x",X0).attr("y",cfg.top).attr("width",X1-X0).attr("height",cfg.bottom-cfg.top)
    .attr("fill","none").attr("stroke","#000").attr("stroke-width",4.5);

  // axes
  const fmt = d3.format("d");
  const xa = g.append("g").attr("transform",`translate(0,${cfg.bottom})`)
    .call(d3.axisBottom(x).tickValues(xTicks).tickSize(13).tickFormat(d => d%2===0 ? fmt(d) : ""));
  const xm = g.append("g").attr("transform",`translate(0,${cfg.bottom})`)
    .call(d3.axisBottom(x).tickValues(xTicks.slice(0,-1).map(v => v+0.5)).tickSize(8).tickFormat(""));
  const ya = g.append("g").attr("transform",`translate(${X0},0)`)
    .call(d3.axisLeft(y).tickValues(cfg.yTicks).tickSize(13).tickFormat(d3.format(".1f")));
  const yMinorVals = [];
  cfg.yTicks.forEach(v => [0.25,0.5,0.75].forEach(f => { if (v+f < cfg.yDomain[1]-0.01) yMinorVals.push(v+f); }));
  const ym = g.append("g").attr("transform",`translate(${X0},0)`)
    .call(d3.axisLeft(y).tickValues(yMinorVals).tickSize(7).tickFormat(""));
  [xa,xm,ya,ym].forEach(a => {
    a.select(".domain").remove();
    a.selectAll(".tick line").attr("stroke","#000").attr("stroke-width",4);
    a.selectAll("text").attr("font-family",FONT).attr("font-size",37).attr("fill","#000");
  });
  xa.selectAll(".tick text").attr("y",cfg.xLabelDy).attr("dy","0")
    .each(function(d){ if (d < 0) d3.select(this).attr("text-anchor","end").attr("x",10.3); });
  ya.selectAll(".tick text").attr("x",-26).attr("dy","0.35em");

  // axis titles
  const xt = g.append("text").attr("x",638).attr("y",cfg.xTitleY).attr("text-anchor","middle")
    .attr("font-family",FONT).attr("font-weight","bold").attr("font-size",cfg.xTitleSize);
  cfg.xTitle.forEach((s,i) => {
    const t = xt.append("tspan").text(s);
    if (i%2===1) t.attr("font-size",27).attr("dy",-17);
    else if (i>0) t.attr("dy",17);
  });
  const yt = g.append("text").attr("transform",`translate(41,${(cfg.top+cfg.bottom)/2}) rotate(-90)`)
    .attr("text-anchor","middle").attr("font-family",FONT).attr("font-weight","bold").attr("font-size",42);
  yt.append("tspan").text("\u2212Log");
  yt.append("tspan").text("10").attr("font-size",26).attr("dy",8);
  yt.append("tspan").text(" (").attr("dy",-8);
  yt.append("tspan").text("P").attr("font-style","italic");
  yt.append("tspan").text(" value)");

  // panel letter
  g.append("text").attr("x",8).attr("y",cfg.letterY).text(cfg.letter)
    .attr("font-family",FONT).attr("font-weight","bold").attr("font-size",37);

  // threshold label
  const pl = g.append("text").attr("x",1124).attr("y",y(cfg.thresh)-7).attr("text-anchor","end")
    .attr("font-family",FONT).attr("font-weight","bold").attr("font-size",38).attr("fill","#111");
  pl.append("tspan").text("P").attr("font-style","italic");
  pl.append("tspan").text(" < 0.025");

  // gene labels
  const lay = labelLayout[cfg.letter];
  [[cfg.green,GREEN],[cfg.red,RED]].forEach(([arr,col]) => {
    arr.filter(d => d[2]).forEach(d => {
      const L = lay[d[2]];
      g.append("text").attr("x",x(d[0])+L.dx).attr("y",y(d[1])+L.dy).attr("text-anchor",L.a)
        .attr("font-family",FONT).attr("font-weight","bold").attr("font-size",36).attr("fill",col).text(d[2]);
      if (d[2]==="IGFBP4") {
        const px = x(d[0]), py = y(d[1]);
        const tail = [px+64, py+50], tip = [px+9, py+6];
        const vx = tip[0]-tail[0], vy = tip[1]-tail[1], len = Math.hypot(vx,vy);
        const ux = vx/len, uy = vy/len, hl = 22, hw = 9;
        const bx = tip[0]-ux*hl, by = tip[1]-uy*hl;
        g.append("line").attr("x1",tail[0]).attr("y1",tail[1]).attr("x2",bx).attr("y2",by)
          .attr("stroke","#000").attr("stroke-width",4);
        g.append("path").attr("d",`M${tip[0]},${tip[1]}L${bx-uy*hw},${by+ux*hw}L${bx+uy*hw},${by-ux*hw}Z`).attr("fill","#000");
      }
    });
  });
}

drawPanel({letter:"A", top:5, bottom:927, yDomain:[-0.25,4.25], yTicks:yTicksA, thresh:threshA,
  grey:greyA, dense:denseA.concat(denseA2), green:greenA, red:redA, rg:6.7, sw:2.6, rc:10.8,
  xLabelDy:50, xTitleY:1022, xTitleSize:44, xTitle:xTitleA, letterY:32});
drawPanel({letter:"B", top:1065, bottom:1991, yDomain:[-0.25,5.5], yTicks:yTicksB, thresh:threshB,
  grey:greyB, dense:denseB.concat(denseB2), green:greenB, red:redB, rg:5.6, sw:2.3, rc:9.6,
  xLabelDy:51, xTitleY:2090, xTitleSize:43, xTitle:xTitleB, letterY:1095});
</script>
</body></html>
